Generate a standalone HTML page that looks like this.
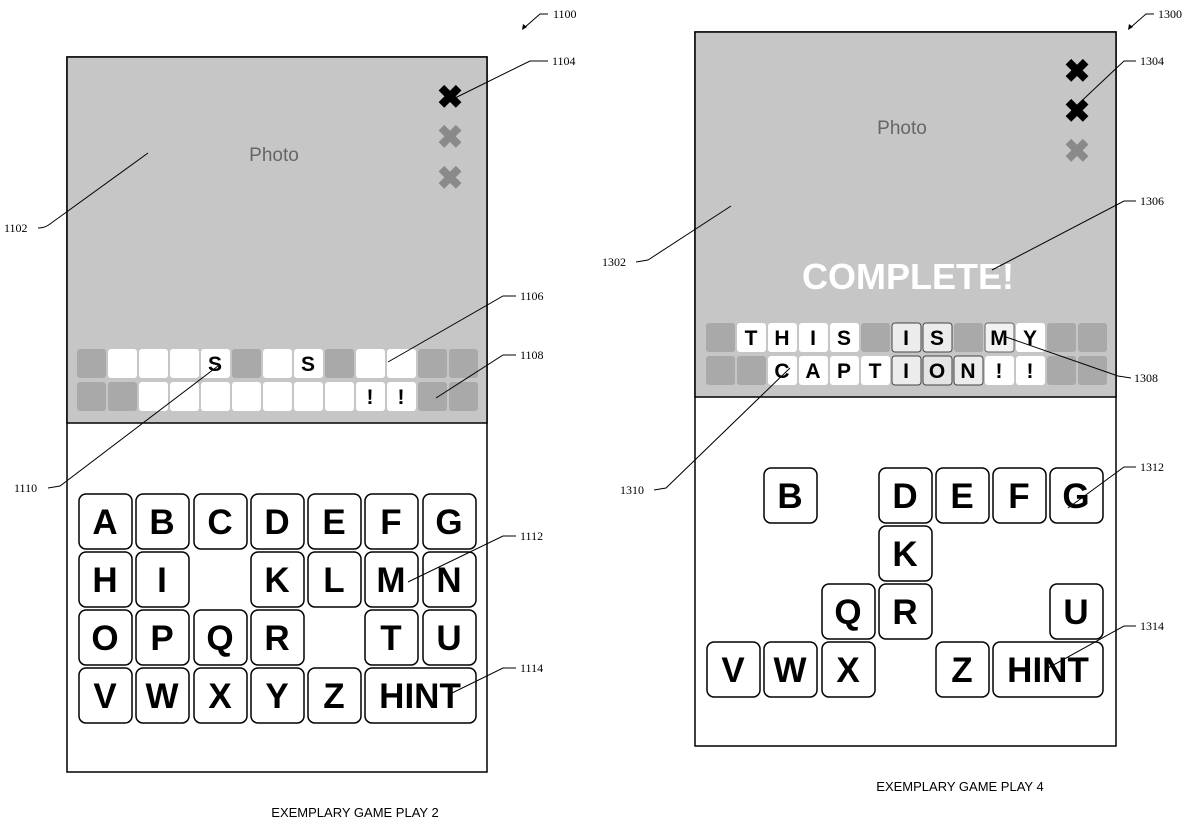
<!DOCTYPE html>
<html><head><style>
html,body{margin:0;padding:0;background:#fff;}
svg{display:block;font-family:"Liberation Sans",sans-serif;}
.k rect{fill:#fff;stroke:#000;stroke-width:1.5;}
.kt{font-size:35px;font-weight:bold;text-anchor:middle;}
.tt{font-size:21px;font-weight:bold;text-anchor:middle;}
.lb{font-family:"Liberation Serif",serif;font-size:12px;}
.w{fill:#fff;} .d{fill:#a9a9a9;}
.ln{stroke:#000;stroke-width:1;fill:none;}
</style></head><body>
<svg width="1200" height="828" viewBox="0 0 1200 828">
<!-- LEFT -->
<rect x="67" y="57" width="420" height="715" fill="#fff" stroke="#000" stroke-width="1.5"/>
<rect x="67" y="57" width="420" height="366" fill="#c6c6c6" stroke="#000" stroke-width="1.5"/>
<text x="274" y="161" font-size="19" fill="#666" text-anchor="middle">Photo</text>
<g font-size="32" font-weight="bold" text-anchor="middle">
<text x="450" y="108" fill="#000">✖</text>
<text x="450" y="148" fill="#8a8a8a">✖</text>
<text x="450" y="189" fill="#8a8a8a">✖</text>
</g>
<g>
<rect class="d" x="77" y="349" width="29" height="29" rx="3"/>
<rect class="w" x="108" y="349" width="29" height="29" rx="3"/>
<rect class="w" x="139" y="349" width="29" height="29" rx="3"/>
<rect class="w" x="170" y="349" width="29" height="29" rx="3"/>
<rect class="w" x="201" y="349" width="29" height="29" rx="3"/>
<rect class="d" x="232" y="349" width="29" height="29" rx="3"/>
<rect class="w" x="263" y="349" width="29" height="29" rx="3"/>
<rect class="w" x="294" y="349" width="29" height="29" rx="3"/>
<rect class="d" x="325" y="349" width="29" height="29" rx="3"/>
<rect class="w" x="356" y="349" width="29" height="29" rx="3"/>
<rect class="w" x="387" y="349" width="29" height="29" rx="3"/>
<rect class="d" x="418" y="349" width="29" height="29" rx="3"/>
<rect class="d" x="449" y="349" width="29" height="29" rx="3"/>
<rect class="d" x="77" y="382" width="29" height="29" rx="3"/>
<rect class="d" x="108" y="382" width="29" height="29" rx="3"/>
<rect class="w" x="139" y="382" width="29" height="29" rx="3"/>
<rect class="w" x="170" y="382" width="29" height="29" rx="3"/>
<rect class="w" x="201" y="382" width="29" height="29" rx="3"/>
<rect class="w" x="232" y="382" width="29" height="29" rx="3"/>
<rect class="w" x="263" y="382" width="29" height="29" rx="3"/>
<rect class="w" x="294" y="382" width="29" height="29" rx="3"/>
<rect class="w" x="325" y="382" width="29" height="29" rx="3"/>
<rect class="w" x="356" y="382" width="29" height="29" rx="3"/>
<rect class="w" x="387" y="382" width="29" height="29" rx="3"/>
<rect class="d" x="418" y="382" width="29" height="29" rx="3"/>
<rect class="d" x="449" y="382" width="29" height="29" rx="3"/>
<text class="tt" x="215" y="371">S</text>
<text class="tt" x="308" y="371">S</text>
<text class="tt" x="370" y="404">!</text>
<text class="tt" x="401" y="404">!</text>
</g>
<g class="k">
<rect x="79" y="494" width="53" height="55" rx="7"/><rect x="136" y="494" width="53" height="55" rx="7"/><rect x="194" y="494" width="53" height="55" rx="7"/><rect x="251" y="494" width="53" height="55" rx="7"/><rect x="308" y="494" width="53" height="55" rx="7"/><rect x="365" y="494" width="53" height="55" rx="7"/><rect x="423" y="494" width="53" height="55" rx="7"/>
<rect x="79" y="552" width="53" height="55" rx="7"/><rect x="136" y="552" width="53" height="55" rx="7"/><rect x="251" y="552" width="53" height="55" rx="7"/><rect x="308" y="552" width="53" height="55" rx="7"/><rect x="365" y="552" width="53" height="55" rx="7"/><rect x="423" y="552" width="53" height="55" rx="7"/>
<rect x="79" y="610" width="53" height="55" rx="7"/><rect x="136" y="610" width="53" height="55" rx="7"/><rect x="194" y="610" width="53" height="55" rx="7"/><rect x="251" y="610" width="53" height="55" rx="7"/><rect x="365" y="610" width="53" height="55" rx="7"/><rect x="423" y="610" width="53" height="55" rx="7"/>
<rect x="79" y="668" width="53" height="55" rx="7"/><rect x="136" y="668" width="53" height="55" rx="7"/><rect x="194" y="668" width="53" height="55" rx="7"/><rect x="251" y="668" width="53" height="55" rx="7"/><rect x="308" y="668" width="53" height="55" rx="7"/><rect x="365" y="668" width="111" height="55" rx="7"/>
</g>
<g class="kt">
<text x="105" y="534">A</text><text x="162" y="534">B</text><text x="220" y="534">C</text><text x="277" y="534">D</text><text x="334" y="534">E</text><text x="391" y="534">F</text><text x="449" y="534">G</text>
<text x="105" y="592">H</text><text x="162" y="592">I</text><text x="277" y="592">K</text><text x="334" y="592">L</text><text x="391" y="592">M</text><text x="449" y="592">N</text>
<text x="105" y="650">O</text><text x="162" y="650">P</text><text x="220" y="650">Q</text><text x="277" y="650">R</text><text x="391" y="650">T</text><text x="449" y="650">U</text>
<text x="105" y="708">V</text><text x="162" y="708">W</text><text x="220" y="708">X</text><text x="277" y="708">Y</text><text x="334" y="708">Z</text><text x="420" y="708">HINT</text>
</g>
<!-- left leaders -->
<path class="ln" d="M38 228 Q45 228 50 224 L148 153"/>
<path class="ln" d="M548 61 L530 61 L455 98"/>
<path class="ln" d="M516 296 L503 296 L388 362"/>
<path class="ln" d="M516 355 L503 355 L436 398"/>
<path class="ln" d="M48 488 L60 486 L218 366"/>
<path class="ln" d="M516 536 L503 536 L408 582"/>
<path class="ln" d="M516 668 L503 668 L450 694"/>
<g class="lb">
<text x="4" y="232">1102</text><text x="552" y="65">1104</text><text x="520" y="300">1106</text><text x="520" y="359">1108</text><text x="14" y="492">1110</text><text x="520" y="540">1112</text><text x="520" y="672">1114</text>
<text x="553" y="18">1100</text><text x="1158" y="18">1300</text>
</g>
<path class="ln" d="M548 14 L540 14 L524 28"/><path d="M522 30 l1-6 l4 3z" fill="#000"/>
<path class="ln" d="M1154 14 L1146 14 L1130 28"/><path d="M1128 30 l1-6 l4 3z" fill="#000"/>
<text x="355" y="817" font-size="13" text-anchor="middle">EXEMPLARY GAME PLAY 2</text>
<text x="960" y="791" font-size="13" text-anchor="middle">EXEMPLARY GAME PLAY 4</text>

<!-- RIGHT -->
<rect x="695" y="32" width="421" height="714" fill="#fff" stroke="#000" stroke-width="1.5"/>
<rect x="695" y="32" width="421" height="365" fill="#c6c6c6" stroke="#000" stroke-width="1.5"/>
<text x="902" y="134" font-size="19" fill="#666" text-anchor="middle">Photo</text>
<text x="908" y="289" font-size="36" font-weight="bold" fill="#fff" text-anchor="middle">COMPLETE!</text>
<g font-size="32" font-weight="bold" text-anchor="middle">
<text x="1077" y="82" fill="#000">✖</text>
<text x="1077" y="122" fill="#000">✖</text>
<text x="1077" y="162" fill="#8a8a8a">✖</text>
</g>
<g>
<rect class="d" x="706" y="323" width="29" height="29" rx="3"/>
<rect class="w" x="737" y="323" width="29" height="29" rx="3"/>
<rect class="w" x="768" y="323" width="29" height="29" rx="3"/>
<rect class="w" x="799" y="323" width="29" height="29" rx="3"/>
<rect class="w" x="830" y="323" width="29" height="29" rx="3"/>
<rect class="d" x="861" y="323" width="29" height="29" rx="3"/>
<rect x="892" y="323" width="29" height="29" rx="3" fill="#ececec" stroke="#444"/>
<rect x="923" y="323" width="29" height="29" rx="3" fill="#ececec" stroke="#444"/>
<rect class="d" x="954" y="323" width="29" height="29" rx="3"/>
<rect x="985" y="323" width="29" height="29" rx="3" fill="#f2f2f2" stroke="#666"/>
<rect class="w" x="1016" y="323" width="29" height="29" rx="3"/>
<rect class="d" x="1047" y="323" width="29" height="29" rx="3"/>
<rect class="d" x="1078" y="323" width="29" height="29" rx="3"/>
<rect class="d" x="706" y="356" width="29" height="29" rx="3"/>
<rect class="d" x="737" y="356" width="29" height="29" rx="3"/>
<rect class="w" x="768" y="356" width="29" height="29" rx="3"/>
<rect class="w" x="799" y="356" width="29" height="29" rx="3"/>
<rect class="w" x="830" y="356" width="29" height="29" rx="3"/>
<rect class="w" x="861" y="356" width="29" height="29" rx="3"/>
<rect x="892" y="356" width="29" height="29" rx="3" fill="#ececec" stroke="#444"/>
<rect x="923" y="356" width="29" height="29" rx="3" fill="#e4e4e4" stroke="#444"/>
<rect x="954" y="356" width="29" height="29" rx="3" fill="#ececec" stroke="#444"/>
<rect class="w" x="985" y="356" width="29" height="29" rx="3"/>
<rect class="w" x="1016" y="356" width="29" height="29" rx="3"/>
<rect class="d" x="1047" y="356" width="29" height="29" rx="3"/>
<rect class="d" x="1078" y="356" width="29" height="29" rx="3"/>
<text class="tt" x="751" y="345">T</text><text class="tt" x="782" y="345">H</text><text class="tt" x="813" y="345">I</text><text class="tt" x="844" y="345">S</text>
<text class="tt" x="906" y="345">I</text><text class="tt" x="937" y="345">S</text><text class="tt" x="999" y="345">M</text><text class="tt" x="1030" y="345">Y</text>
<text class="tt" x="782" y="378">C</text><text class="tt" x="813" y="378">A</text><text class="tt" x="844" y="378">P</text><text class="tt" x="875" y="378">T</text><text class="tt" x="906" y="378">I</text><text class="tt" x="937" y="378">O</text><text class="tt" x="968" y="378">N</text><text class="tt" x="999" y="378">!</text><text class="tt" x="1030" y="378">!</text>
</g>
<g class="k">
<rect x="764" y="468" width="53" height="55" rx="7"/><rect x="879" y="468" width="53" height="55" rx="7"/><rect x="936" y="468" width="53" height="55" rx="7"/><rect x="993" y="468" width="53" height="55" rx="7"/><rect x="1050" y="468" width="53" height="55" rx="7"/>
<rect x="879" y="526" width="53" height="55" rx="7"/>
<rect x="822" y="584" width="53" height="55" rx="7"/><rect x="879" y="584" width="53" height="55" rx="7"/><rect x="1050" y="584" width="53" height="55" rx="7"/>
<rect x="707" y="642" width="53" height="55" rx="7"/><rect x="764" y="642" width="53" height="55" rx="7"/><rect x="822" y="642" width="53" height="55" rx="7"/><rect x="936" y="642" width="53" height="55" rx="7"/><rect x="993" y="642" width="110" height="55" rx="7"/>
</g>
<g class="kt">
<text x="790" y="508">B</text><text x="905" y="508">D</text><text x="962" y="508">E</text><text x="1019" y="508">F</text><text x="1076" y="508">G</text>
<text x="905" y="566">K</text>
<text x="848" y="624">Q</text><text x="905" y="624">R</text><text x="1076" y="624">U</text>
<text x="733" y="682">V</text><text x="790" y="682">W</text><text x="848" y="682">X</text><text x="962" y="682">Z</text><text x="1048" y="682">HINT</text>
</g>
<path class="ln" d="M636 262 L648 260 L731 206"/>
<path class="ln" d="M1136 61 L1124 61 L1072 110"/>
<path class="ln" d="M1136 201 L1124 201 L992 270"/>
<path class="ln" d="M1131 378 L1118 376 L1006 337"/>
<path class="ln" d="M654 490 L666 488 L790 368"/>
<path class="ln" d="M1136 467 L1124 467 L1068 508"/>
<path class="ln" d="M1136 626 L1124 626 L1048 668"/>
<g class="lb">
<text x="602" y="266">1302</text><text x="1140" y="65">1304</text><text x="1140" y="205">1306</text><text x="1134" y="382">1308</text><text x="620" y="494">1310</text><text x="1140" y="471">1312</text><text x="1140" y="630">1314</text>
</g>
</svg>
</body></html>
